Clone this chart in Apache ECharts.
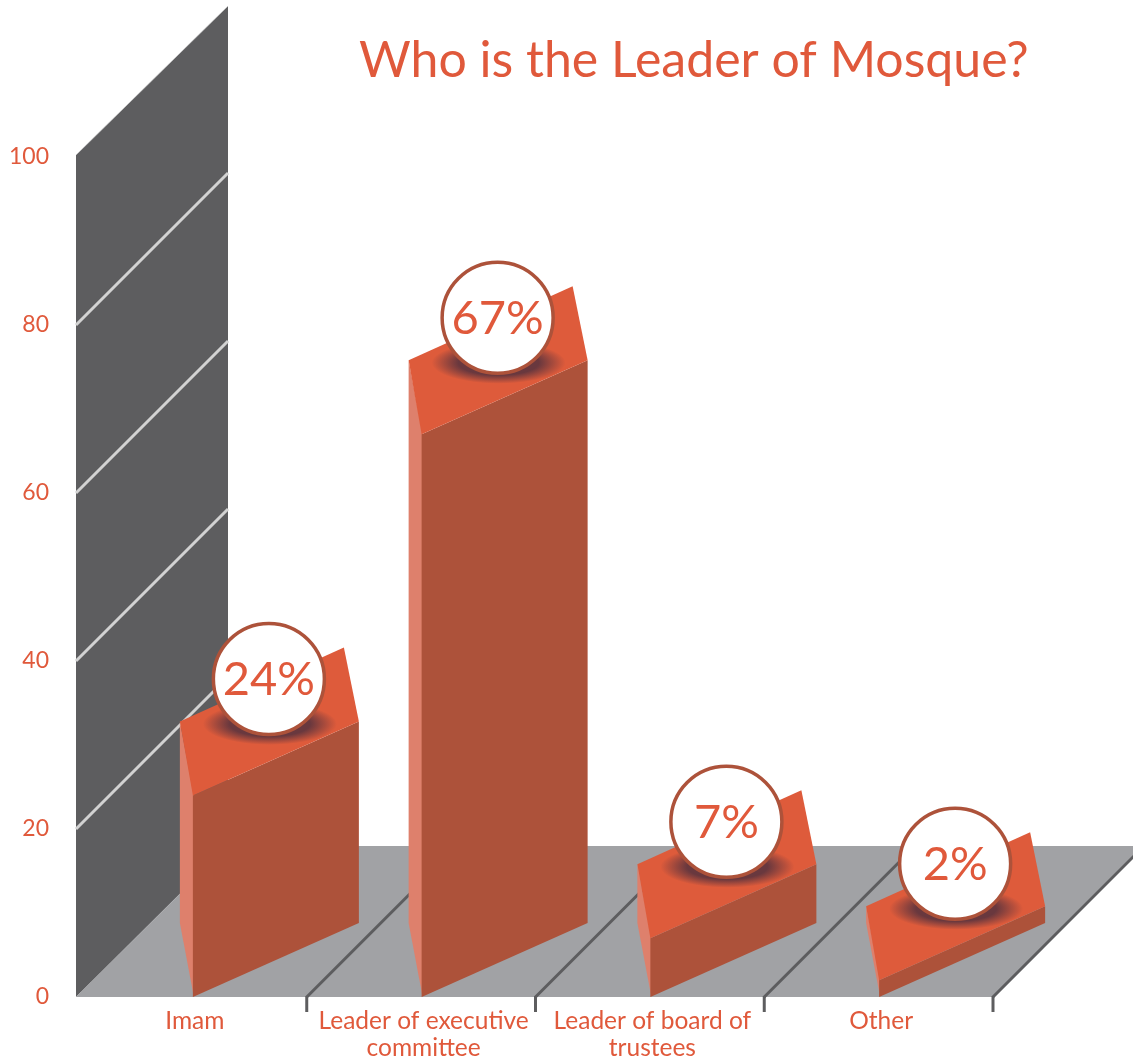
<!DOCTYPE html>
<html>
<head>
<meta charset="utf-8">
<style>html,body{margin:0;padding:0;background:#fff}#c{width:1133px;height:1059px}</style>
<script src="https://cdn.jsdelivr.net/npm/echarts@6/dist/echarts.min.js"></script>
</head>
<body>
<div id="c"></div>
<script>
const titleText = 'Who is the Leader of Mosque?';
const categories = ['Imam', 'Leader of executive\ncommittee', 'Leader of board of\ntrustees', 'Other'];
const values = [24, 67, 7, 2];
const valueLabels = ['24%', '67%', '7%', '2%'];
const yTicks = [20, 40, 60, 80, 100];

const ORANGE = '#e0593b', TOP = '#de5b3b', FRONT = '#ad523a', SIDE = '#de806c';
const WALL = '#5d5d5f', FLOOR = '#a1a2a5', WALL_LINE = '#d2d2d2';
const FONT = 'Lato, "Noto Sans", sans-serif';
const W_DEPTH = 152, FLOOR_DEPTH = 151;

function leftEdge(api) { return api.coord([0, 0])[0] - api.size([1, 0])[0] / 2 - 2; }
function poly(points, fill) { return { type: 'polygon', shape: { points }, style: { fill } }; }

const chart = echarts.init(document.getElementById('c'), null, { renderer: 'canvas' });
chart.setOption({
  animation: false,
  backgroundColor: '#fff',
  title: {
    text: titleText, left: 354, top: 31,
    textStyle: { color: ORANGE, fontFamily: FONT, fontSize: 50, fontWeight: 400 }
  },
  grid: { left: 78, right: 140, top: 157, bottom: 62, outerBoundsMode: 'none' },
  xAxis: {
    type: 'category', data: categories,
    axisLine: { show: false }, axisTick: { show: false }, splitLine: { show: false },
    axisLabel: { interval: 0, margin: 11, padding: [0, 0, 0, 5], color: ORANGE, fontFamily: FONT, fontSize: 24.5, fontWeight: 400, lineHeight: 27 }
  },
  yAxis: {
    type: 'value', min: 0, max: 100, interval: 20,
    axisLine: { show: false }, axisTick: { show: false }, splitLine: { show: false },
    axisLabel: { margin: 29, padding: [7, 0, 0, 0], color: ORANGE, fontFamily: FONT, fontSize: 23, fontWeight: 400 }
  },
  series: [
    { // wall and floor planes
      type: 'custom', coordinateSystem: 'cartesian2d', silent: true, z: 1,
      data: [[0, 0]],
      encode: { x: 0, y: 1 },
      renderItem(params, api) {
        const x0 = leftEdge(api), band = api.size([1, 0])[0];
        const yB = api.coord([0, 0])[1], yT = api.coord([0, 100])[1];
        const xR = api.coord([categories.length - 1, 0])[0] + band / 2;
        return { type: 'group', children: [
          poly([[x0, yT - 2], [x0 + W_DEPTH, yT - W_DEPTH + 1], [x0 + W_DEPTH, yB - FLOOR_DEPTH], [x0, yB]], WALL),
          poly([[x0, yB], [x0 + W_DEPTH, yB - FLOOR_DEPTH], [xR + 400, yB - FLOOR_DEPTH], [xR + FLOOR_DEPTH, yB - FLOOR_DEPTH], [xR, yB]], FLOOR)
        ] };
      }
    },
    { // wall gridlines
      type: 'custom', coordinateSystem: 'cartesian2d', silent: true, z: 2,
      data: yTicks.map(v => [0, v]),
      encode: { x: 0, y: 1 },
      renderItem(params, api) {
        const x0 = leftEdge(api), v = api.value(1), y = api.coord([0, v])[1];
        const top = v === yTicks[yTicks.length - 1];
        return { type: 'line',
          shape: { x1: x0, y1: y - (top ? 2 : 0), x2: x0 + W_DEPTH, y2: y - W_DEPTH + (top ? 1 : 0) },
          style: { stroke: WALL_LINE, lineWidth: top ? 1 : 3, opacity: top ? 0.6 : 1 } };
      }
    },
    { // floor lines and ticks at band boundaries
      type: 'custom', coordinateSystem: 'cartesian2d', silent: true, z: 3,
      data: categories.map((c, i) => [i, 0]),
      encode: { x: 0, y: 1 },
      renderItem(params, api) {
        const band = api.size([1, 0])[0];
        const p = api.coord([api.value(0), 0]);
        const x = p[0] + band / 2, y = p[1];
        const st = { stroke: WALL, lineWidth: 3, fill: null };
        return { type: 'group', children: [
          { type: 'line', shape: { x1: x, y1: y, x2: x + FLOOR_DEPTH, y2: y - FLOOR_DEPTH }, style: st },
          { type: 'line', shape: { x1: x, y1: y - 1, x2: x, y2: y + 15 }, style: st }
        ] };
      }
    },
    { // 3-D bars with value bubbles
      type: 'custom', coordinateSystem: 'cartesian2d', silent: true, z: 4,
      data: values.map((v, i) => [i, v]),
      encode: { x: 0, y: 1 },
      renderItem(params, api) {
        const i = api.value(0), v = api.value(1);
        const top = api.coord([i, v]), base = api.coord([i, 0]);
        const x = top[0] + 0.5, yT = top[1], yB = base[1];
        const w = 166, rise = 74, side = 13, backX = 151;
        const cx = x + 76, cy = yT - 116.5, r = 55.5;
        return { type: 'group', children: [
          poly([[x - side, yT - rise], [x + 1, yT], [x + 1, yB], [x - side, yB - rise]], SIDE),
          poly([[x, yB], [x + w, yB - rise], [x + w, yT - rise], [x, yT]], FRONT),
          poly([[x - side, yT - rise], [x, yT], [x + w, yT - rise], [x + backX, yT - 2 * rise]], TOP),
          { type: 'circle', shape: { cx: 0, cy: 0, r: 1 }, x: cx + 1, y: cy + 45, scaleX: 67, scaleY: 21,
            style: { fill: new echarts.graphic.RadialGradient(0.5, 0.5, 0.5, [
              { offset: 0, color: 'rgba(105,56,62,1)' },
              { offset: 0.6, color: 'rgba(105,56,62,1)' },
              { offset: 1, color: 'rgba(105,56,62,0)' }
            ]) } },
          { type: 'circle', shape: { cx, cy, r }, style: { fill: '#fff', stroke: FRONT, lineWidth: 3.5 } },
          { type: 'text', style: { text: valueLabels[i], x: cx, y: cy + 1, align: 'center', verticalAlign: 'middle',
            fill: ORANGE, fontFamily: FONT, fontSize: 47, fontWeight: 400 } }
        ] };
      }
    }
  ]
});
</script>
</body>
</html>
